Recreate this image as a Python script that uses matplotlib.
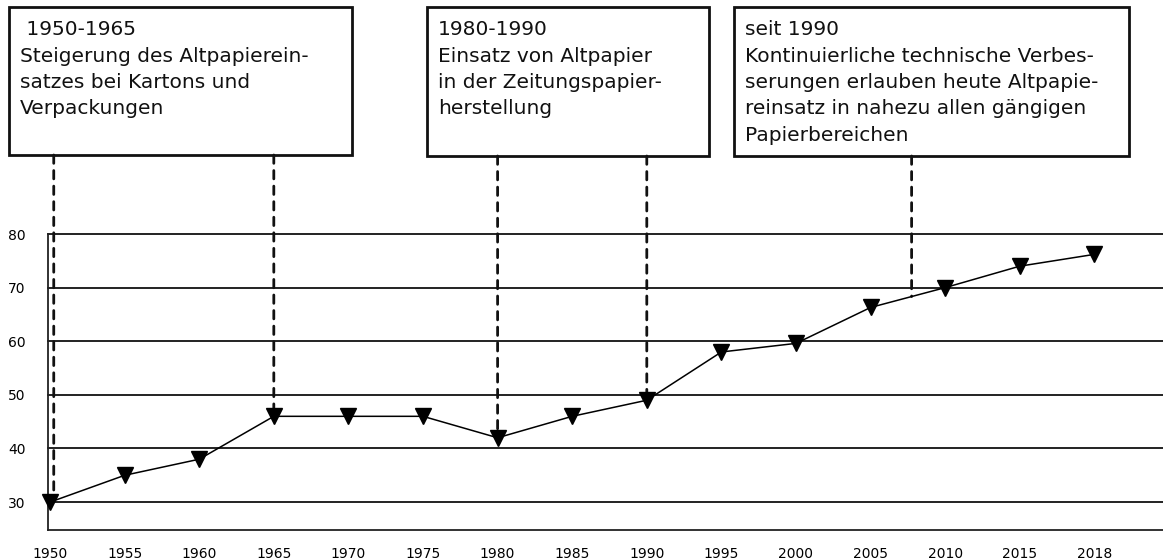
import numpy as np
import matplotlib
matplotlib.use("Agg")
import matplotlib.pyplot as plt
import matplotlib.transforms as mtransforms
from matplotlib.patches import Rectangle

# -----------------------------
# Data
# -----------------------------
years = ["1950", "1955", "1960", "1965", "1970", "1975", "1980", "1985",
         "1990", "1995", "2000", "2005", "2010", "2015", "2018"]
quote = [30, 35, 38, 46, 46, 46, 42, 46, 49, 58, 59.6, 66.3, 70, 74, 76.2]
y_ticks = [30, 40, 50, 60, 70, 80]

box_texts = [
    " 1950-1965\nSteigerung des Altpapierein-\nsatzes bei Kartons und\nVerpackungen",
    "1980-1990\nEinsatz von Altpapier\nin der Zeitungspapier-\nherstellung",
    "seit 1990\nKontinuierliche technische Verbes-\nserungen erlauben heute Altpapie-\nreinsatz in nahezu allen gängigen\nPapierbereichen",
]
# marker positions (category index) each box points to
box_links = [[0.05, 3], [6, 8], [11.55]]

plt.rcParams["font.family"] = ["DejaVu Sans"]

fig = plt.figure(figsize=(11.63, 5.6), dpi=100)
ax = fig.add_axes([48 / 1163, 30 / 560, 1 - 48 / 1163, 296 / 560])

x = np.arange(len(years))
ax.set_xlim(-0.027, 14.92)
ax.set_ylim(24.8, 80)

for yv in y_ticks:
    ax.axhline(yv, color="#111111", linewidth=1.3, zorder=1, clip_on=False)

ax.plot(x, quote, color="black", linewidth=1.1, marker="v",
        markersize=11, zorder=4, clip_on=False)

ax.set_xticks(x)
ax.set_xticklabels(years, fontsize=10)
ax.set_yticks(y_ticks)
ax.set_yticklabels([str(v) for v in y_ticks], fontsize=10)
ax.tick_params(length=0)
ax.tick_params(axis="x", pad=12)
ax.tick_params(axis="y", pad=16)
for side in ["top", "right"]:
    ax.spines[side].set_visible(False)
for side in ["left", "bottom"]:
    ax.spines[side].set_linewidth(1.3)
    ax.spines[side].set_color("#222222")

# -----------------------------
# Text boxes with dashed leaders
# -----------------------------
# box extents in figure pixels: left, right, top, bottom
box_px = [(9, 352, 7, 155), (427, 709, 7, 156), (734, 1129, 7, 156)]
W, H = 1163, 560
blend = mtransforms.blended_transform_factory(ax.transData, fig.transFigure)

for (l, r, t, b), txt, links in zip(box_px, box_texts, box_links):
    fig.patches.append(Rectangle((l / W, 1 - b / H), (r - l) / W, (b - t) / H,
                                 transform=fig.transFigure, fill=False,
                                 edgecolor="#111111", linewidth=2))
    fig.text((l + 11) / W, 1 - (t + 13) / H, txt, ha="left", va="top",
             fontsize=14.5, linespacing=1.5, color="#111111")
    for xi in links:
        yi = np.interp(xi, x, quote)
        ax.annotate("", xy=(xi, yi), xycoords="data",
                    xytext=(xi, 1 - b / H), textcoords=blend,
                    arrowprops=dict(arrowstyle="-", color="#111111",
                                    linewidth=2, linestyle=(0, (3.0, 2.6)),
                                    shrinkA=0, shrinkB=0),
                    zorder=3, annotation_clip=False)

fig.savefig("out.png", dpi=100)
